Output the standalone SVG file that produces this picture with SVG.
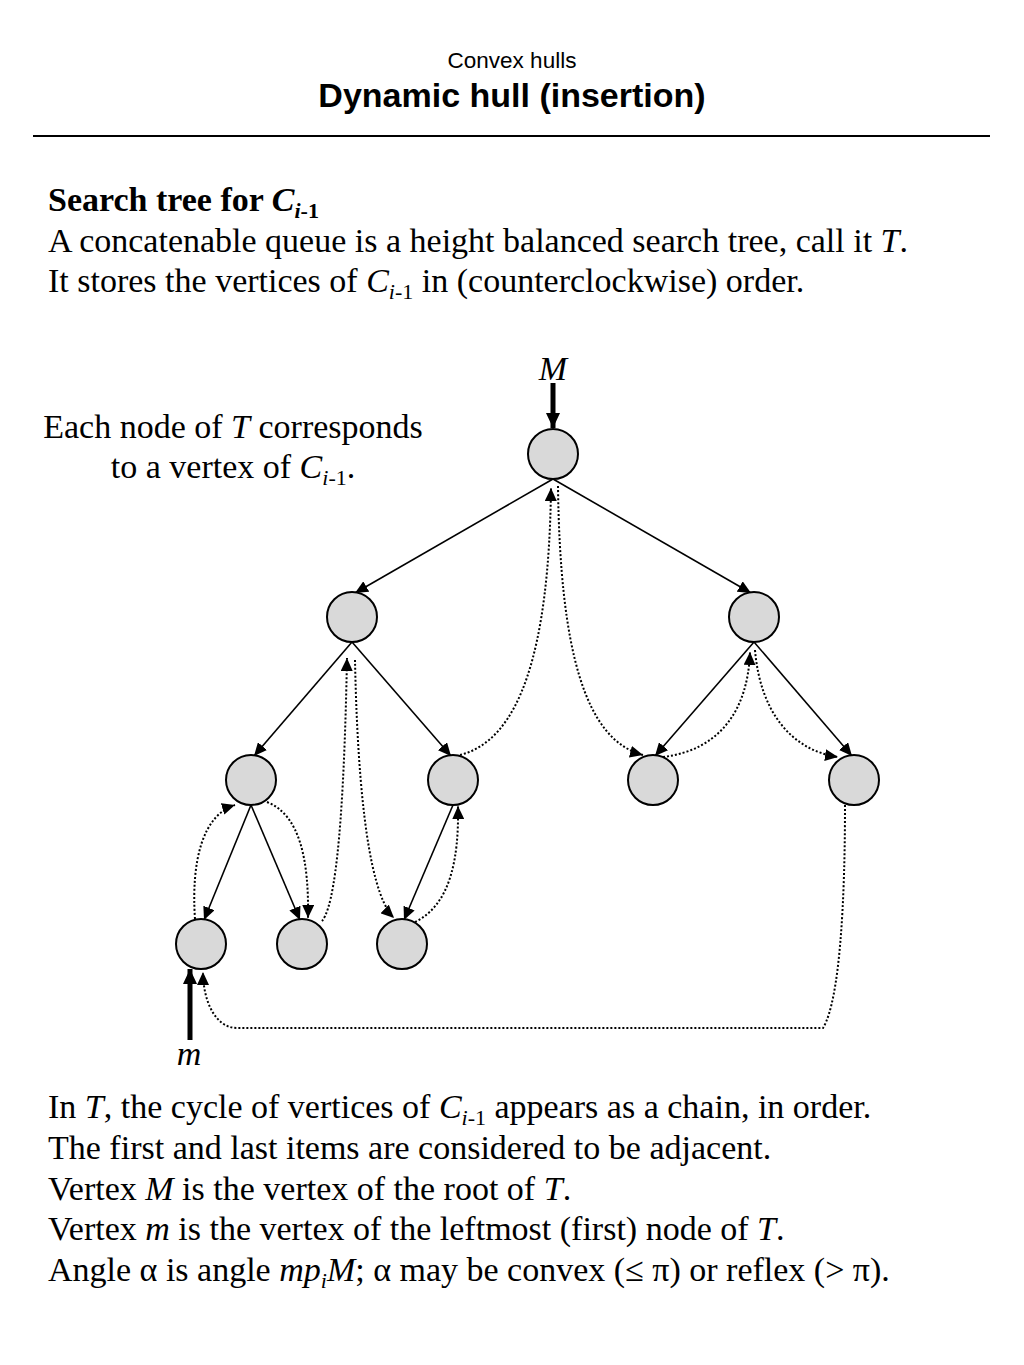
<svg xmlns="http://www.w3.org/2000/svg" width="1024" height="1365" viewBox="0 0 1024 1365">
<style>
.sans{font-family:"Liberation Sans",Arial,sans-serif;}
.serif{font-family:"Liberation Serif","Times New Roman",serif;font-size:34px;fill:#000;}
.sub{font-size:22px;}
.node{fill:#d9d9d9;stroke:#000;stroke-width:2;}
.edge{stroke:#000;stroke-width:1.6;fill:none;marker-end:url(#ah);}
.dot{stroke:#000;stroke-width:2;fill:none;stroke-dasharray:2 2;marker-end:url(#ah);}
.thick{stroke:#000;stroke-width:5;fill:none;marker-end:url(#bh);}
</style>
<defs>
<marker id="ah" markerUnits="userSpaceOnUse" markerWidth="14" markerHeight="12" viewBox="0 0 14 12" refX="13" refY="6" orient="auto"><path d="M0,0 L13,6 L0,12 z" fill="#000"/></marker>
<marker id="bh" markerUnits="userSpaceOnUse" markerWidth="16" markerHeight="14" viewBox="0 0 16 14" refX="15" refY="7" orient="auto"><path d="M0,0 L15,7 L0,14 z" fill="#000"/></marker>
</defs>
<rect width="1024" height="1365" fill="#fff"/>
<text class="sans" x="512" y="68" font-size="22.5" text-anchor="middle">Convex hulls</text>
<text class="sans" x="512" y="107" font-size="34" font-weight="bold" text-anchor="middle">Dynamic hull (insertion)</text>
<line x1="33" y1="136" x2="990" y2="136" stroke="#000" stroke-width="2"/>

<g id="header-text">
<text class="serif" x="48" y="211" font-weight="bold">Search tree for <tspan font-style="italic">C</tspan><tspan class="sub" dy="7"><tspan font-style="italic">i</tspan>-1</tspan></text>
<text class="serif" x="48" y="252">A concatenable queue is a height balanced search tree, call it <tspan font-style="italic">T</tspan>.</text>
<text class="serif" x="48" y="292">It stores the vertices of <tspan font-style="italic">C</tspan><tspan class="sub" dy="7"><tspan font-style="italic">i</tspan>-1</tspan><tspan dy="-7"> in (counterclockwise) order.</tspan></text>
</g>

<g id="note">
<text class="serif" x="233" y="438" text-anchor="middle">Each node of <tspan font-style="italic">T</tspan> corresponds</text>
<text class="serif" x="233" y="478" text-anchor="middle">to a vertex of <tspan font-style="italic">C</tspan><tspan class="sub" dy="7"><tspan font-style="italic">i</tspan>-1</tspan><tspan dy="-7">.</tspan></text>
</g>

<g id="connectors">
<line class="edge" x1="553" y1="479" x2="355" y2="593"/>
<line class="edge" x1="553" y1="479" x2="751" y2="593"/>
<line class="edge" x1="352" y1="642" x2="254" y2="756"/>
<line class="edge" x1="352" y1="642" x2="451" y2="756"/>
<line class="edge" x1="754" y1="642" x2="655" y2="756"/>
<line class="edge" x1="754" y1="642" x2="852" y2="756"/>
<line class="edge" x1="251" y1="805" x2="204" y2="920"/>
<line class="edge" x1="251" y1="805" x2="300" y2="920"/>
<line class="edge" x1="453" y1="805" x2="404" y2="920"/>

<path class="dot" d="M195,919 C191,860 203,815 235,805"/>
<path class="dot" d="M267,802 C300,815 309,860 308,918"/>
<path class="dot" d="M322,921 C340,900 345,760 347,658"/>
<path class="dot" d="M355,660 C357,760 365,890 394,918"/>
<path class="dot" d="M415,922 C450,905 459,860 458,806"/>
<path class="dot" d="M460,755 C520,740 549,650 551,488"/>
<path class="dot" d="M558,486 C560,650 585,740 643,755"/>
<path class="dot" d="M663,757 C720,750 748,710 750,652"/>
<path class="dot" d="M755,650 C760,710 790,750 838,757"/>
<path class="dot" d="M845,805 C845,900 840,1000 823,1028 L237,1028 C215,1028 203,1000 203,972"/>

<line class="thick" x1="553" y1="383" x2="553" y2="428"/>
<line class="thick" x1="190" y1="1040" x2="190" y2="969"/>
</g>

<g id="n-root"><circle class="node" cx="553" cy="454" r="25"/></g>
<g id="n-l1"><circle class="node" cx="352" cy="617" r="25"/></g>
<g id="n-r1"><circle class="node" cx="754" cy="617" r="25"/></g>
<g id="n-ll"><circle class="node" cx="251" cy="780" r="25"/></g>
<g id="n-lr"><circle class="node" cx="453" cy="780" r="25"/></g>
<g id="n-rl"><circle class="node" cx="653" cy="780" r="25"/></g>
<g id="n-rr"><circle class="node" cx="854" cy="780" r="25"/></g>
<g id="n-lll"><circle class="node" cx="201" cy="944" r="25"/></g>
<g id="n-llr"><circle class="node" cx="302" cy="944" r="25"/></g>
<g id="n-lrl"><circle class="node" cx="402" cy="944" r="25"/></g>

<text class="serif" x="553" y="380" font-style="italic" text-anchor="middle">M</text>
<text class="serif" x="189" y="1065" font-style="italic" text-anchor="middle">m</text>

<g id="footer-text">
<text class="serif" x="48" y="1118">In <tspan font-style="italic">T</tspan>, the cycle of vertices of <tspan font-style="italic">C</tspan><tspan class="sub" dy="7"><tspan font-style="italic">i</tspan>-1</tspan><tspan dy="-7"> appears as a chain, in order.</tspan></text>
<text class="serif" x="48" y="1159">The first and last items are considered to be adjacent.</text>
<text class="serif" x="48" y="1200">Vertex <tspan font-style="italic">M</tspan> is the vertex of the root of <tspan font-style="italic">T</tspan>.</text>
<text class="serif" x="48" y="1240">Vertex <tspan font-style="italic">m</tspan> is the vertex of the leftmost (first) node of <tspan font-style="italic">T</tspan>.</text>
<text class="serif" x="48" y="1281">Angle α is angle <tspan font-style="italic">mp</tspan><tspan class="sub" dy="7" font-style="italic">i</tspan><tspan dy="-7" font-style="italic">M</tspan>; α may be convex (≤ π) or reflex (&gt; π).</text>
</g>
</svg>
